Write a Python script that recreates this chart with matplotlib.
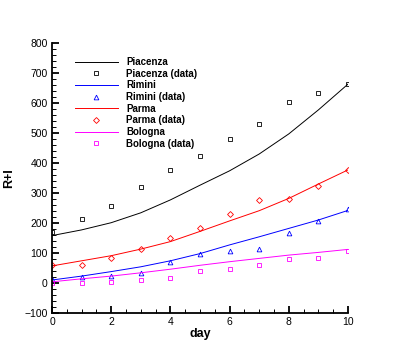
import numpy as np
import matplotlib
matplotlib.use("Agg")
import matplotlib.pyplot as plt
from matplotlib.ticker import MultipleLocator

plt.rcParams['font.family'] = ['Liberation Sans', 'DejaVu Sans']

# days
days = [0, 1, 2, 3, 4, 5, 6, 7, 8, 9, 10]

# observed data
piacenza_data = [171, 212, 256, 319, 378, 425, 479, 529, 602, 633, 664]
rimini_data = [13, 20, 24, 33, 70, 97, 106, 113, 166, 207, 246]
parma_data = [59, 60, 84, 114, 149, 182, 230, 276, 279, 324, 378]
bologna_data = [0, 0, 4, 11, 18, 41, 48, 61, 79, 84, 107]

# fitted curves (read at each day)
piacenza_fit = [158, 177, 201, 234, 277, 326, 374, 430, 497, 577, 663]
rimini_fit = [10, 23, 38, 54, 74, 98, 127, 154, 182, 210, 242]
parma_fit = [57, 74, 91, 113, 138, 172, 207, 241, 282, 330, 377]
bologna_fit = [4, 14, 23, 34, 46, 59, 71, 82, 93, 102, 112]

fig = plt.figure(figsize=(3.97, 3.53), dpi=100)
ax = fig.add_axes([52/397, 1-313/353, 296/397, 270/353])

lw = 0.7
ms_kw = dict(linestyle='none', markerfacecolor='none', markeredgewidth=0.6)

ax.plot(days, piacenza_fit, color='black', lw=lw, label='Piacenza')
ax.plot(days, piacenza_data, marker='s', markersize=3.2, color='black', label='Piacenza (data)', **ms_kw)
ax.plot(days, rimini_fit, color='blue', lw=lw, label='Rimini')
ax.plot(days, rimini_data, marker='^', markersize=3.4, color='blue', label='Rimini (data)', **ms_kw)
ax.plot(days, parma_fit, color='red', lw=lw, label='Parma')
ax.plot(days, parma_data, marker='D', markersize=3.0, color='red', label='Parma (data)', **ms_kw)
ax.plot(days, bologna_fit, color='magenta', lw=lw, label='Bologna')
ax.plot(days, bologna_data, marker='s', markersize=3.2, color='magenta', label='Bologna (data)', **ms_kw)

ax.set_xlim(0, 10)
ax.set_ylim(-100, 800)
ax.xaxis.set_major_locator(MultipleLocator(2))
ax.xaxis.set_minor_locator(MultipleLocator(0.5))
ax.yaxis.set_major_locator(MultipleLocator(100))
ax.yaxis.set_minor_locator(MultipleLocator(20))

ax.spines['top'].set_visible(False)
ax.spines['right'].set_visible(False)
for s in ['left', 'bottom']:
    ax.spines[s].set_linewidth(1.3)
ax.tick_params(which='both', direction='in', labelsize=7.5, top=False, right=False)
ax.tick_params(which='major', length=5, width=1.3, pad=3)
ax.tick_params(which='minor', length=3, width=0.7)
ax.patch.set_alpha(0)

ax.set_xlabel('day', fontsize=9, fontweight='bold')
ax.set_ylabel('R+I', fontsize=9, fontweight='bold')
ax.xaxis.set_label_coords(0.5, -15/270, transform=ax.transAxes)
ax.yaxis.set_label_coords(-37/296, 0.5, transform=ax.transAxes)

leg = ax.legend(loc='upper left', bbox_to_anchor=(75/397, 1-57/353),
                bbox_transform=fig.transFigure, frameon=False, numpoints=1,
                prop={'size': 7, 'weight': 'bold'}, handlelength=4.4,
                handletextpad=0.85, labelspacing=0.17, borderpad=0, borderaxespad=0)

fig.savefig('out.png', dpi=100)
